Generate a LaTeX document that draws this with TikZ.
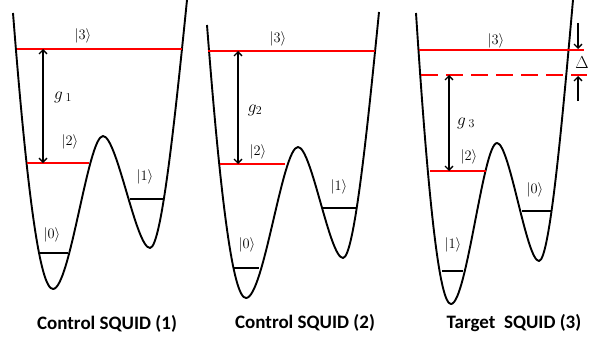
\documentclass[tikz,border=0pt]{standalone}
\usepackage{fontspec}
\newfontfamily\capfont{Carlito}
\usetikzlibrary{arrows.meta}
\tikzset{
  well/.style={line width=1.9pt, black, line join=round},
  redlevel/.style={line width=1.9pt, red},
  blacklevel/.style={line width=1.5pt, black},
  dashlevel/.style={line width=1.9pt, red, dash pattern=on 17pt off 8pt},
  coupling/.style={line width=1.3pt, {Straight Barb[length=4pt,width=8pt]}-{Straight Barb[length=4pt,width=8pt]}},
  gap/.style={line width=1.3pt, -{Straight Barb[length=4pt,width=8pt]}},
  ket/.style={font=\fontsize{14.5}{17}\selectfont, inner sep=0pt},
  glabel/.style={font=\fontsize{18}{20}\selectfont, inner sep=0pt},
  caption/.style={font=\capfont\bfseries\fontsize{19}{22}\selectfont, inner sep=0pt}
}
\begin{document}
\begin{tikzpicture}[x=1pt,y=-1pt]
\useasboundingbox (0,0) rectangle (589,337);
% ---------------- Panel 1 ----------------
\draw[well] (13,13) .. controls (27,192) and (39.8,289) .. (53,289)
  .. controls (70,289) and (88,136) .. (103,136)
  .. controls (117,136) and (136,248) .. (150,248)
  .. controls (161.8,248) and (175.9,109) .. (187,0);
\coordinate (p1l3a) at (17,49);  \coordinate (p1l3b) at (182,49);
\coordinate (p1l2a) at (27,163); \coordinate (p1l2b) at (89,163);
\coordinate (p1l0a) at (40,253); \coordinate (p1l0b) at (68,253);
\coordinate (p1l1a) at (130,199); \coordinate (p1l1b) at (163,199);
\coordinate (p1ga) at (43,49); \coordinate (p1gb) at (43,163);
\draw[redlevel] (p1l3a) -- (p1l3b);
\draw[redlevel] (p1l2a) -- (p1l2b);
\draw[blacklevel] (p1l0a) -- (p1l0b);
\draw[blacklevel] (p1l1a) -- (p1l1b);
\draw[coupling] (p1ga) -- (p1gb);
\node[ket] (k13) at (83,36) {$|3\rangle$};
\node[ket] (k12) at (70,142) {$|2\rangle$};
\node[ket] (k11) at (145,177) {$|1\rangle$};
\node[ket] (k10) at (52,235) {$|0\rangle$};
\node[glabel] (g1) at (63,97) {$g_{\;1}$};
\node[caption] (c1) at (107,324) {Control SQUID (1)};
% ---------------- Panel 2 ----------------
\draw[well] (207,25) .. controls (220.7,202.5) and (233.1,298) .. (246,298)
  .. controls (263.7,298) and (282.4,147) .. (298,147)
  .. controls (311.5,147) and (329.5,258) .. (343,258)
  .. controls (354.5,258) and (368.2,120.2) .. (379,12);
\coordinate (p2l3a) at (208,51);  \coordinate (p2l3b) at (375,51);
\coordinate (p2l2a) at (220,164); \coordinate (p2l2b) at (285,164);
\coordinate (p2l0a) at (234,268); \coordinate (p2l0b) at (259,268);
\coordinate (p2l1a) at (323,208); \coordinate (p2l1b) at (357,208);
\coordinate (p2ga) at (238,51); \coordinate (p2gb) at (238,164);
\draw[redlevel] (p2l3a) -- (p2l3b);
\draw[redlevel] (p2l2a) -- (p2l2b);
\draw[blacklevel] (p2l0a) -- (p2l0b);
\draw[blacklevel] (p2l1a) -- (p2l1b);
\draw[coupling] (p2ga) -- (p2gb);
\node[ket] (k23) at (278,39) {$|3\rangle$};
\node[ket] (k22) at (258,152) {$|2\rangle$};
\node[ket] (k21) at (339,187) {$|1\rangle$};
\node[ket] (k20) at (247,245) {$|0\rangle$};
\node[glabel] (g2) at (255,110) {$g_{2}$};
\node[caption] (c2) at (305,323) {Control SQUID (2)};
% ---------------- Panel 3 ----------------
\draw[well] (416,13) .. controls (428.3,202.2) and (439.4,304) .. (451,304)
  .. controls (466.6,304) and (483.2,143) .. (497,143)
  .. controls (509.6,143) and (526.4,261) .. (539,261)
  .. controls (549.9,261) and (562.8,114.8) .. (573,0);
\coordinate (p3l3a) at (419,50);  \coordinate (p3l3b) at (584,50);
\coordinate (p3lda) at (421,75);  \coordinate (p3ldb) at (587,75);
\coordinate (p3l2a) at (430,171); \coordinate (p3l2b) at (486,171);
\coordinate (p3l1a) at (442,271); \coordinate (p3l1b) at (463,271);
\coordinate (p3l0a) at (522,211); \coordinate (p3l0b) at (552,211);
\coordinate (p3ga) at (449,75); \coordinate (p3gb) at (449,171);
\coordinate (d1a) at (578,23); \coordinate (d1b) at (578,49);
\coordinate (d2a) at (578,101); \coordinate (d2b) at (578,76);
\draw[redlevel] (p3l3a) -- (p3l3b);
\draw[dashlevel] (p3lda) -- (p3ldb);
\draw[redlevel] (p3l2a) -- (p3l2b);
\draw[blacklevel] (p3l1a) -- (p3l1b);
\draw[blacklevel] (p3l0a) -- (p3l0b);
\draw[coupling] (p3ga) -- (p3gb);
\draw[gap] (d1a) -- (d1b);
\draw[gap] (d2a) -- (d2b);
\node[ket] (k33) at (496,41) {$|3\rangle$};
\node[ket] (k32) at (469,157) {$|2\rangle$};
\node[ket] (k30) at (535,190) {$|0\rangle$};
\node[ket] (k31) at (453,245) {$|1\rangle$};
\node[glabel] (dl) at (582,63) {$\Delta$};
\node[glabel] (g3) at (466,123) {$g_{\;3}$};
\node[caption] (c3) at (514,323) {Target\ \ SQUID (3)};
\end{tikzpicture}
\end{document}
